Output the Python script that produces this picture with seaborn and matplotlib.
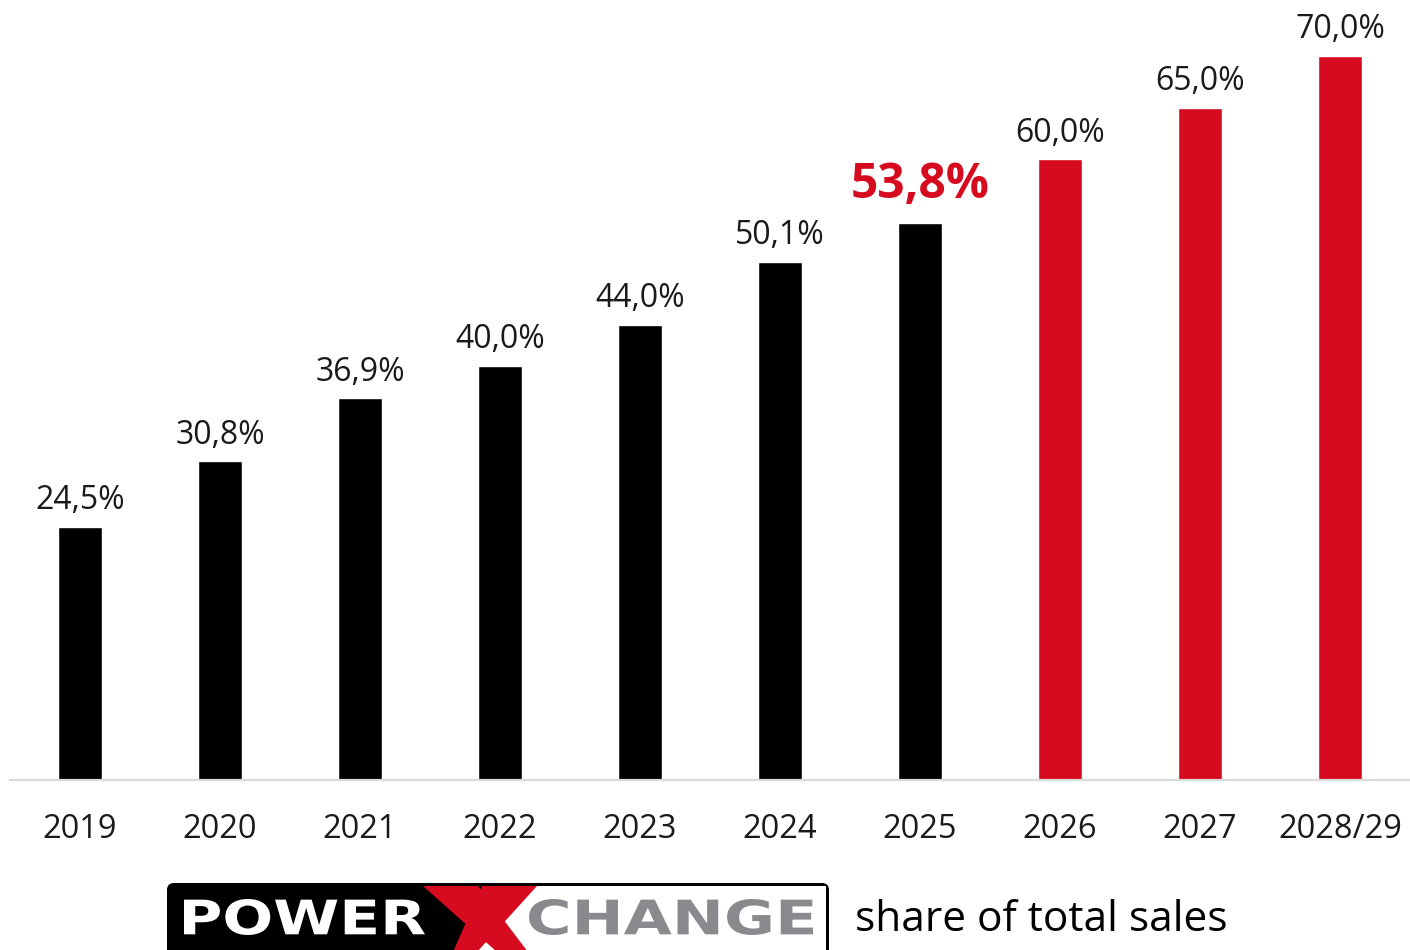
import matplotlib
matplotlib.use("Agg")
import matplotlib.pyplot as plt
import seaborn as sns
import pandas as pd
from matplotlib.patches import FancyBboxPatch, Polygon, PathPatch
from matplotlib.textpath import TextPath
from matplotlib.font_manager import FontProperties
from matplotlib.transforms import Affine2D

years = ["2019", "2020", "2021", "2022", "2023", "2024", "2025", "2026", "2027", "2028/29"]
share = [24.5, 30.8, 36.9, 40.0, 44.0, 50.1, 53.8, 60.0, 65.0, 70.0]
kind = ["actual"] * 7 + ["target"] * 3
highlight_year = "2025"

RED = "#D60B1F"
GREY = "#8A898D"

sns.set_style("white")
plt.rcParams["font.family"] = ["Open Sans", "DejaVu Sans"]

df = pd.DataFrame({"year": years, "share": share, "kind": kind})

fig = plt.figure(figsize=(14.1, 9.5), dpi=100)
ax = fig.add_axes([10 / 1410, 170 / 950, 1400 / 1410, 780 / 950])

sns.barplot(data=df, x="year", y="share", hue="kind",
            palette={"actual": "black", "target": RED},
            dodge=False, width=0.314, saturation=1, legend=False, ax=ax)

ax.set_xlim(-0.5, len(years) - 0.5)
ax.set_ylim(0, 75.4)
ax.set_xlabel("")
ax.set_ylabel("")
ax.set_yticks([])
ax.tick_params(axis="x", length=0, pad=24, labelsize=23.5, colors="#1a1a1a")
for s in ["top", "left", "right"]:
    ax.spines[s].set_visible(False)
ax.spines["bottom"].set_color("#d9d9d9")
ax.spines["bottom"].set_linewidth(1.6)

# value labels
for i, (yr, v) in enumerate(zip(years, share)):
    txt = f"{v:.1f}%".replace(".", ",")
    if yr == highlight_year:
        ax.annotate(txt, (i, v), xytext=(0, 10), textcoords="offset points",
                    ha="center", va="bottom", fontsize=34.5, fontweight="bold",
                    color=RED)
    else:
        ax.annotate(txt, (i, v), xytext=(0, 7), textcoords="offset points",
                    ha="center", va="bottom", fontsize=23, color="#1a1a1a")

# logo + caption in pixel coordinates
lay = fig.add_axes([0, 0, 1, 1], zorder=5)
lay.set_xlim(0, 1410)
lay.set_ylim(950, 0)
lay.axis("off")
lay.patch.set_alpha(0)

lay.add_patch(FancyBboxPatch((167, 883), 662, 80, boxstyle="round,pad=0,rounding_size=7",
                             fc="black", ec="black", lw=0))
lay.add_patch(Polygon([(510, 886), (826, 886), (826, 952), (470, 952)],
                      closed=True, fc="white", ec="none"))
lay.add_patch(Polygon([(423, 886), (478, 886), (528, 952), (497, 952)],
                      closed=True, fc=RED, ec="none"))
lay.add_patch(Polygon([(482, 886), (537, 886), (477, 952), (453, 952)],
                      closed=True, fc=RED, ec="none"))


def fitted_text(s, x0, y0, x1, y1, color):
    fp = FontProperties(family="DejaVu Sans", weight="heavy")
    tp = TextPath((0, 0), s, size=10, prop=fp)
    bb = tp.get_extents()
    sx = (x1 - x0) / bb.width
    sy = (y1 - y0) / bb.height
    tr = Affine2D().translate(-bb.x0, -bb.y0).scale(sx, -sy).translate(x0, y1)
    lay.add_patch(PathPatch(tr.transform_path(tp), fc=color, ec="none"))


fitted_text("POWER", 184, 899, 425, 935, "white")
fitted_text("CHANGE", 529, 899, 813, 935, GREY)

lay.text(855, 920, "share of total sales", fontsize=30.5, color="black",
         ha="left", va="center")

fig.savefig("out.png", dpi=100)
